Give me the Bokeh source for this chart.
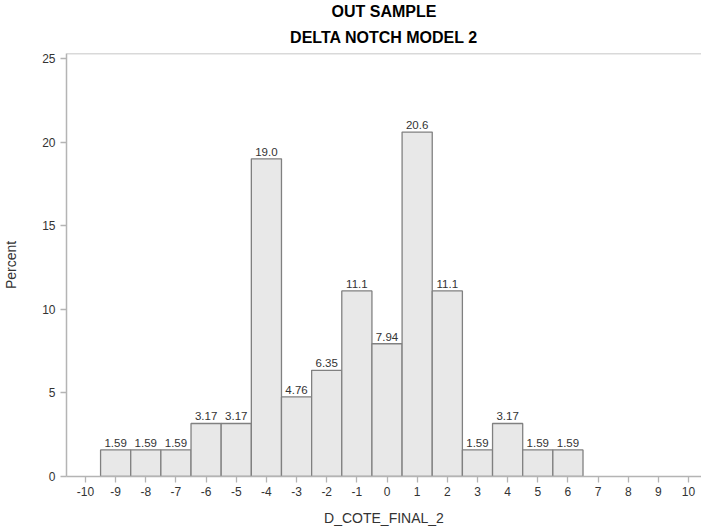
from bokeh.plotting import figure
from bokeh.models import ColumnDataSource, FixedTicker, Span, Title
from bokeh.core.properties import value
from bokeh.embed import file_html
from bokeh.resources import INLINE

# Data
bin_centers = [-9, -8, -7, -6, -5, -4, -3, -2, -1, 0, 1, 2, 3, 4, 5, 6]
percents = [1.59, 1.59, 1.59, 3.17, 3.17, 19.0, 4.76, 6.35, 11.1, 7.94, 20.6, 11.1, 1.59, 3.17, 1.59, 1.59]
labels = ["1.59", "1.59", "1.59", "3.17", "3.17", "19.0", "4.76", "6.35", "11.1", "7.94", "20.6", "11.1", "1.59", "3.17", "1.59", "1.59"]
x_ticks = list(range(-10, 11))
y_ticks = [0, 5, 10, 15, 20, 25]
title_lines = ["OUT SAMPLE", "DELTA NOTCH MODEL 2"]

FONT = "Liberation Sans"
AXIS_COLOR = "#b4b4b4"
TEXT_COLOR = "#333333"

src = ColumnDataSource(dict(x=bin_centers, top=percents, lab=labels))

p = figure(width=701, height=528, output_backend="svg", toolbar_location=None,
           x_range=(-10.63, 10.43), y_range=(0, 25.3),
           min_border_left=60, min_border_right=0, min_border_top=50, min_border_bottom=0)

p.title.text = title_lines[0]
p.title.align = "center"
p.title.text_font = FONT
p.title.text_font_size = "16px"
p.title.text_font_style = "bold"
p.title.text_color = "#000000"
p.title.standoff = 0
p.add_layout(Title(text=title_lines[1], align="center", text_font=FONT, text_font_size="16px",
                   text_font_style="bold", text_color="#000000", standoff=15), "above")

p.vbar(x="x", top="top", bottom=0, width=1, source=src,
       fill_color="#e8e8e8", line_color="#808080", line_width=1.3)
p.text(x="x", y="top", text="lab", source=src, text_align="center", text_baseline="bottom",
       y_offset=-3, text_font=value(FONT), text_font_size="11.5px", text_color=TEXT_COLOR)

p.outline_line_color = None
p.xgrid.visible = False
p.ygrid.visible = False
p.add_layout(Span(location=25.3, dimension="width", line_color=AXIS_COLOR, line_width=1.5))

for ax in (p.xaxis[0], p.yaxis[0]):
    ax.axis_line_color = AXIS_COLOR
    ax.axis_line_width = 1.5
    ax.major_tick_line_color = AXIS_COLOR
    ax.major_tick_line_width = 1.3
    ax.major_tick_in = 0
    ax.major_tick_out = 6
    ax.minor_tick_line_color = None
    ax.major_label_text_font = FONT
    ax.major_label_text_font_size = "12px"
    ax.major_label_text_color = TEXT_COLOR
    ax.axis_label_text_font = FONT
    ax.axis_label_text_font_size = "14px"
    ax.axis_label_text_font_style = "normal"
    ax.axis_label_text_color = TEXT_COLOR

p.xaxis.ticker = FixedTicker(ticks=x_ticks)
p.yaxis.ticker = FixedTicker(ticks=y_ticks)
p.xaxis.major_label_overrides = {t: str(t) for t in x_ticks}
p.yaxis.major_label_overrides = {t: str(t) for t in y_ticks}
p.xaxis.axis_label = "D_COTE_FINAL_2"
p.yaxis.axis_label = "Percent"
p.xaxis.major_label_standoff = 4
p.xaxis.axis_label_standoff = 11
p.yaxis.major_label_standoff = 5
p.yaxis.axis_label_standoff = 20

open("out.html", "w").write(file_html(p, INLINE))
